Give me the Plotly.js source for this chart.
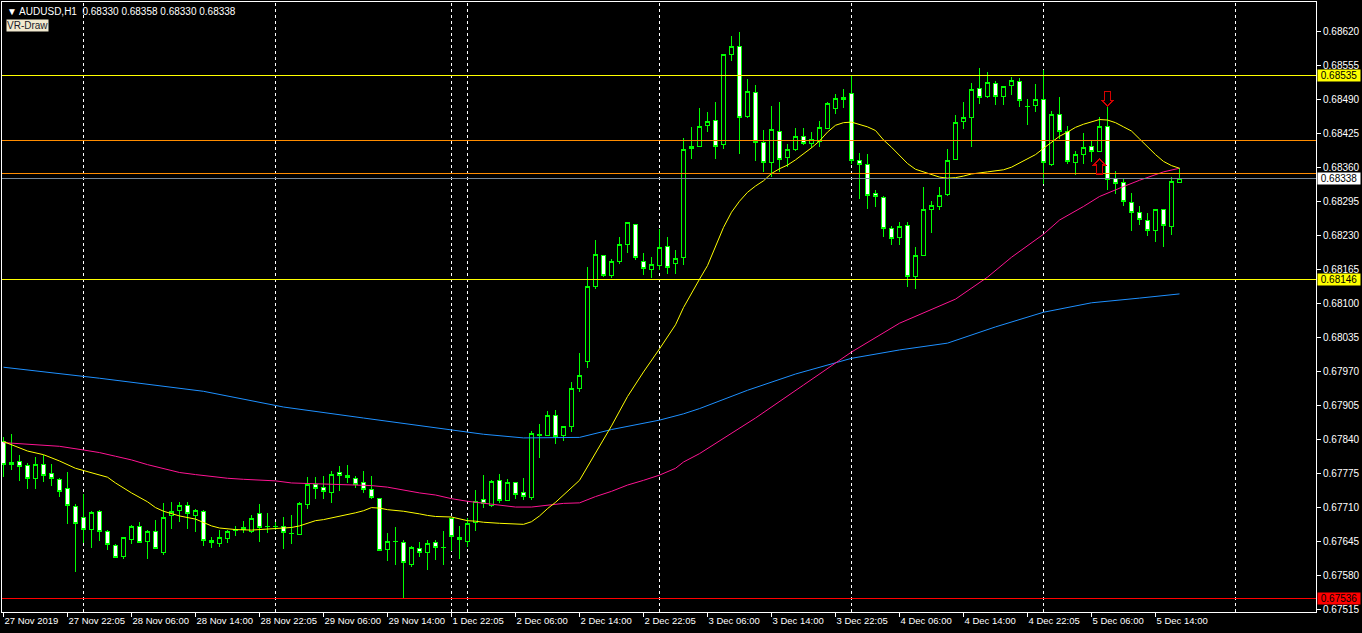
<!DOCTYPE html>
<html><head><meta charset="utf-8">
<script src="https://cdn.plot.ly/plotly-3.0.1.min.js"></script>
<style>html,body{margin:0;padding:0;background:#000;overflow:hidden}#chart{width:1362px;height:633px}
.shapelayer path{shape-rendering:crispEdges}
.boxes path{shape-rendering:crispEdges}
</style>
</head><body><div id="chart"></div>
<script>
// ---- DATA: AUDUSD H1, bar index 0..147 ----
const bars = Array.from({length:148},(_,i)=>i);
const open  = [0.67837,0.67792,0.67798,0.67790,0.67765,0.67792,0.67775,0.67764,0.67746,0.67712,0.67691,0.67668,0.67703,0.67664,0.67638,0.67616,0.67650,0.67673,0.67645,0.67664,0.67625,0.67694,0.67704,0.67714,0.67694,0.67703,0.67647,0.67642,0.67651,0.67666,0.67668,0.67665,0.67699,0.67673,0.67674,0.67674,0.67661,0.67658,0.67716,0.67755,0.67748,0.67738,0.67777,0.67771,0.67766,0.67758,0.67744,0.67728,0.67630,0.67645,0.67643,0.67601,0.67632,0.67624,0.67643,0.67633,0.67689,0.67653,0.67646,0.67681,0.67725,0.67714,0.67761,0.67724,0.67757,0.67739,0.67729,0.67848,0.67848,0.67886,0.67847,0.67864,0.67937,0.67988,0.68133,0.68192,0.68154,0.68179,0.68212,0.68251,0.68180,0.68164,0.68172,0.68209,0.68176,0.68188,0.68396,0.68400,0.68440,0.68449,0.68404,0.68575,0.68591,0.68457,0.68503,0.68407,0.68369,0.68428,0.68379,0.68394,0.68419,0.68406,0.68409,0.68434,0.68472,0.68493,0.68501,0.68373,0.68365,0.68310,0.68303,0.68243,0.68226,0.68249,0.68151,0.68192,0.68279,0.68284,0.68307,0.68375,0.68447,0.68455,0.68511,0.68495,0.68520,0.68495,0.68516,0.68524,0.68475,0.68478,0.68490,0.68365,0.68461,0.68428,0.68369,0.68384,0.68400,0.68390,0.68438,0.68338,0.68331,0.68293,0.68274,0.68258,0.68239,0.68280,0.68247,0.68330];
const high  = [0.67845,0.67850,0.67810,0.67795,0.67806,0.67811,0.67793,0.67767,0.67778,0.67717,0.67736,0.67704,0.67705,0.67667,0.67640,0.67654,0.67676,0.67682,0.67668,0.67686,0.67719,0.67720,0.67720,0.67720,0.67708,0.67705,0.67653,0.67668,0.67667,0.67674,0.67684,0.67695,0.67717,0.67700,0.67683,0.67692,0.67696,0.67720,0.67768,0.67768,0.67770,0.67779,0.67789,0.67791,0.67770,0.67779,0.67770,0.67729,0.67662,0.67672,0.67649,0.67636,0.67644,0.67648,0.67648,0.67665,0.67690,0.67675,0.67691,0.67743,0.67772,0.67762,0.67775,0.67764,0.67758,0.67766,0.67856,0.67869,0.67894,0.67896,0.67866,0.67950,0.68005,0.68169,0.68221,0.68193,0.68184,0.68227,0.68256,0.68252,0.68196,0.68188,0.68242,0.68227,0.68201,0.68415,0.68437,0.68473,0.68465,0.68484,0.68576,0.68610,0.68618,0.68528,0.68517,0.68431,0.68476,0.68484,0.68405,0.68435,0.68435,0.68427,0.68448,0.68485,0.68500,0.68509,0.68535,0.68388,0.68385,0.68316,0.68305,0.68247,0.68255,0.68255,0.68207,0.68322,0.68295,0.68323,0.68395,0.68459,0.68484,0.68520,0.68549,0.68541,0.68524,0.68515,0.68533,0.68531,0.68491,0.68518,0.68545,0.68467,0.68494,0.68439,0.68391,0.68426,0.68411,0.68456,0.68478,0.68353,0.68338,0.68310,0.68285,0.68272,0.68281,0.68281,0.68341,0.68358];
const low   = [0.67769,0.67782,0.67761,0.67745,0.67745,0.67759,0.67752,0.67730,0.67679,0.67587,0.67643,0.67633,0.67646,0.67629,0.67613,0.67612,0.67641,0.67642,0.67612,0.67630,0.67620,0.67669,0.67682,0.67669,0.67664,0.67637,0.67633,0.67634,0.67642,0.67655,0.67662,0.67662,0.67645,0.67662,0.67667,0.67631,0.67641,0.67657,0.67708,0.67727,0.67727,0.67719,0.67742,0.67757,0.67748,0.67737,0.67727,0.67627,0.67608,0.67601,0.67536,0.67597,0.67615,0.67591,0.67610,0.67601,0.67627,0.67612,0.67635,0.67666,0.67709,0.67712,0.67718,0.67722,0.67727,0.67725,0.67725,0.67805,0.67847,0.67832,0.67837,0.67855,0.67931,0.67977,0.68128,0.68151,0.68149,0.68175,0.68196,0.68183,0.68154,0.68148,0.68164,0.68156,0.68156,0.68174,0.68376,0.68399,0.68428,0.68376,0.68394,0.68563,0.68386,0.68453,0.68372,0.68351,0.68342,0.68351,0.68360,0.68390,0.68402,0.68396,0.68399,0.68433,0.68461,0.68473,0.68367,0.68300,0.68281,0.68284,0.68227,0.68212,0.68212,0.68132,0.68128,0.68191,0.68235,0.68279,0.68305,0.68373,0.68432,0.68399,0.68481,0.68492,0.68479,0.68479,0.68497,0.68475,0.68441,0.68466,0.68328,0.68363,0.68414,0.68366,0.68346,0.68367,0.68369,0.68389,0.68316,0.68308,0.68286,0.68239,0.68249,0.68228,0.68218,0.68207,0.68231,0.68330];
const close = [0.67793,0.67796,0.67789,0.67765,0.67793,0.67771,0.67765,0.67741,0.67714,0.67679,0.67668,0.67701,0.67664,0.67640,0.67615,0.67653,0.67674,0.67643,0.67664,0.67631,0.67692,0.67702,0.67714,0.67698,0.67705,0.67647,0.67643,0.67653,0.67664,0.67668,0.67672,0.67689,0.67672,0.67674,0.67673,0.67662,0.67660,0.67718,0.67755,0.67746,0.67740,0.67773,0.67771,0.67768,0.67755,0.67745,0.67729,0.67628,0.67645,0.67646,0.67605,0.67634,0.67624,0.67642,0.67634,0.67634,0.67654,0.67649,0.67680,0.67721,0.67717,0.67760,0.67724,0.67757,0.67735,0.67731,0.67852,0.67850,0.67886,0.67846,0.67865,0.67937,0.67962,0.68132,0.68194,0.68154,0.68179,0.68213,0.68255,0.68187,0.68167,0.68174,0.68207,0.68168,0.68186,0.68394,0.68400,0.68438,0.68447,0.68400,0.68575,0.68591,0.68455,0.68505,0.68407,0.68369,0.68432,0.68375,0.68394,0.68419,0.68406,0.68413,0.68436,0.68482,0.68491,0.68489,0.68373,0.68365,0.68306,0.68304,0.68243,0.68224,0.68247,0.68151,0.68192,0.68279,0.68287,0.68306,0.68373,0.68446,0.68455,0.68509,0.68493,0.68522,0.68495,0.68514,0.68526,0.68488,0.68476,0.68490,0.68369,0.68461,0.68428,0.68371,0.68384,0.68398,0.68390,0.68438,0.68337,0.68329,0.68295,0.68274,0.68260,0.68239,0.68279,0.68249,0.68333,0.68338];

// moving averages (bar index, price)
const maFastBars = [0,3,5,7,9,10,12,13,14,16,18,19,20,22,24,25,26,27,29,31,34,36,37,38,39,40,41,42,43,44,45,46,47,48,50,51,52,53,54,56,57,58,59,60,62,64,65,66,67,68,69,72,74,76,78,80,82,83,84,85,86,87,88,89,90,91,92,93,94,95,96,97,98,99,100,101,102,103,104,105,106,107,108,109,110,111,112,113,114,115,116,117,118,119,120,121,123,125,126,128,129,130,131,132,133,134,135,136,137,138,139,140,141,142,143,144,145,146,147];
const maFastVals = [0.67836,0.67818,0.67811,0.67799,0.67785,0.67781,0.67773,0.67768,0.67757,0.67738,0.67721,0.67710,0.67703,0.67694,0.67688,0.67682,0.67675,0.67671,0.67668,0.67667,0.67670,0.67672,0.67675,0.67680,0.67685,0.67687,0.67690,0.67694,0.67697,0.67700,0.67704,0.67710,0.67709,0.67706,0.67703,0.67701,0.67698,0.67695,0.67693,0.67692,0.67689,0.67685,0.67684,0.67682,0.67680,0.67678,0.67678,0.67683,0.67694,0.67708,0.67720,0.67762,0.67814,0.67866,0.67922,0.67969,0.68013,0.68036,0.68059,0.68092,0.68120,0.68146,0.68172,0.68210,0.68245,0.68274,0.68295,0.68312,0.68324,0.68334,0.68348,0.68357,0.68364,0.68374,0.68385,0.68397,0.68410,0.68427,0.68440,0.68445,0.68446,0.68442,0.68437,0.68430,0.68412,0.68398,0.68382,0.68367,0.68356,0.68351,0.68346,0.68341,0.68339,0.68340,0.68343,0.68347,0.68351,0.68355,0.68360,0.68376,0.68384,0.68396,0.68408,0.68419,0.68427,0.68436,0.68442,0.68447,0.68451,0.68450,0.68445,0.68437,0.68429,0.68414,0.68398,0.68384,0.68371,0.68363,0.68358];
const maMidBars = [0,3,5,7,10,12,14,16,18,20,22,24,26,28,30,32,34,36,38,40,42,44,46,48,50,52,54,56,58,60,62,64,66,68,70,72,74,76,78,80,82,84,85,87,94,100,106,112,119,123,126,130,132,135,137,140,142,145,147];
const maMidVals = [0.67834,0.67831,0.67829,0.67827,0.67820,0.67815,0.67808,0.67801,0.67792,0.67784,0.67777,0.67773,0.67769,0.67766,0.67764,0.67762,0.67761,0.67757,0.67756,0.67755,0.67753,0.67753,0.67752,0.67749,0.67743,0.67738,0.67734,0.67727,0.67722,0.67718,0.67714,0.67711,0.67711,0.67714,0.67718,0.67719,0.67731,0.67741,0.67753,0.67762,0.67772,0.67785,0.67797,0.67813,0.67881,0.67944,0.68007,0.68062,0.68108,0.68150,0.68188,0.68232,0.68259,0.68285,0.68304,0.68323,0.68335,0.68351,0.68358];
const maSlowBars = [0,12,25,35,45,55,60,65,70,72,76,79,82,85,87,93,99,106,112,118,124,130,136,142,147];
const maSlowVals = [0.67978,0.67957,0.67932,0.67902,0.67881,0.67860,0.67850,0.67843,0.67843,0.67844,0.67859,0.67868,0.67877,0.67889,0.67899,0.67934,0.67965,0.67995,0.68011,0.68024,0.68055,0.68083,0.68101,0.68110,0.68118];

// horizontal levels (price) and their labels
const levelLines  = [0.68535, 0.68410, 0.68347, 0.68146, 0.67536];
const labelledLevels = [0.68535, 0.68146, 0.67536];

// time axis
const xTickBars = [0,8,16,24,32,40,48,56,64,72,80,88,96,104,112,120,128,136,144];
const xTickText = ['27 Nov 2019','27 Nov 22:05','28 Nov 06:00','28 Nov 14:00','28 Nov 22:05','29 Nov 06:00','29 Nov 14:00','1 Dec 22:05','2 Dec 06:00','2 Dec 14:00','2 Dec 22:05','3 Dec 06:00','3 Dec 14:00','3 Dec 22:05','4 Dec 06:00','4 Dec 14:00','4 Dec 22:05','5 Dec 06:00','5 Dec 14:00'];
const daySeparatorBars = [10,34,56,58,82,106,130,154];
const yTickVals = [0.67515,0.67580,0.67645,0.67710,0.67775,0.67840,0.67905,0.67970,0.68035,0.68100,0.68165,0.68230,0.68295,0.68360,0.68425,0.68490,0.68555,0.68620];

// arrow objects (bar, price, direction)
const arrowBars = [138, 137];
const arrowPrices = [0.68476, 0.68376];
const arrowDirs = ['down','up'];

// ---- STYLE ----
const FONT = "'Liberation Sans',Arial,sans-serif";
const FS = 10;
const levelColors = ['#ffff00','#ff8c00','#ff8c00','#ffff00','#ff0000'];
const labelBg = {'0.68535':'#ffff00','0.68146':'#ffff00','0.67536':'#ff0000'};

const last = close.length-1;
const traces = [
  {type:'candlestick', x:bars, open:open, high:high, low:low, close:close,
   increasing:{line:{color:'#00ff00',width:1},fillcolor:'#000000'},
   decreasing:{line:{color:'#00ff00',width:1},fillcolor:'#ffffff'},
   whiskerwidth:0, hoverinfo:'skip', showlegend:false},
  {type:'scatter',mode:'lines',x:maSlowBars,y:maSlowVals,line:{color:'#1e90ff',width:1},hoverinfo:'skip'},
  {type:'scatter',mode:'lines',x:maMidBars,y:maMidVals,line:{color:'#ff1493',width:1},hoverinfo:'skip'},
  {type:'scatter',mode:'lines',x:maFastBars,y:maFastVals,line:{color:'#ffff00',width:1},hoverinfo:'skip'}
];

const shapes = [];
daySeparatorBars.forEach(b=>shapes.push({type:'line',xref:'x',yref:'paper',x0:b,x1:b,y0:0,y1:1,
  line:{color:'#ffffff',width:1,dash:'3px,3px'},layer:'below'}));
levelLines.forEach((p,i)=>shapes.push({type:'line',xref:'paper',yref:'y',x0:0,x1:1,y0:p,y1:p,
  line:{color:levelColors[i],width:1},layer:'above'}));
shapes.push({type:'line',xref:'paper',yref:'y',x0:0,x1:1,y0:close[last],y1:close[last],
  line:{color:'#778899',width:1},layer:'above'});
arrowBars.forEach((b,i)=>{
  const path = arrowDirs[i]==='down'
    ? 'M0,0 L-6,6 L-3,6 L-3,15 L3,15 L3,6 L6,6 Z'
    : 'M0,0 L-6,-6 L-3,-6 L-3,-15 L3,-15 L3,-6 L6,-6 Z';
  shapes.push({type:'path',xref:'x',yref:'y',xsizemode:'pixel',ysizemode:'pixel',
    xanchor:b,yanchor:arrowPrices[i],path:path,
    line:{color:'#d40000',width:1.5},fillcolor:'rgba(0,0,0,0)',layer:'above'});
});

const annotations = [];
labelledLevels.forEach(p=>annotations.push({xref:'paper',yref:'y',x:1,y:p,xanchor:'left',yanchor:'middle',
  xshift:1,text:'&nbsp;'+p.toFixed(5)+'&nbsp;',showarrow:false,bgcolor:labelBg[p.toFixed(5)],borderpad:0,
  font:{family:FONT,size:FS,color:'#000000'}}));
annotations.push({xref:'paper',yref:'y',x:1,y:close[last],xanchor:'left',yanchor:'middle',
  xshift:1,text:'&nbsp;'+close[last].toFixed(5)+'&nbsp;',showarrow:false,bgcolor:'#ffffff',borderpad:0,
  font:{family:FONT,size:FS,color:'#000000'}});
annotations.push({xref:'paper',yref:'paper',x:0,y:1,xanchor:'left',yanchor:'top',xshift:3,yshift:-2,
  text:'\u25BC AUDUSD,H1&nbsp;&nbsp;'+open[last].toFixed(5)+' '+high[last].toFixed(5)+' '+low[last].toFixed(5)+' '+close[last].toFixed(5),
  showarrow:false,font:{family:FONT,size:10,color:'#ffffff'}});
annotations.push({xref:'paper',yref:'paper',x:0,y:1,xanchor:'left',yanchor:'top',xshift:4,yshift:-17,
  text:'VR-Draw',showarrow:false,bgcolor:'#f1e9cf',borderpad:0,font:{family:FONT,size:10,color:'#1a1a2a'}});

const layout = {
  width:1362,height:633,paper_bgcolor:'#000000',plot_bgcolor:'#000000',
  margin:{l:2,r:46,t:2,b:21,pad:0},showlegend:false,
  boxgap:0.5,boxgroupgap:0,
  xaxis:{type:'linear',range:[-0.1875,164.0625],rangeslider:{visible:false},showgrid:false,zeroline:false,
    showline:true,mirror:true,linecolor:'#ffffff',linewidth:1,ticks:'outside',ticklen:4,tickcolor:'#ffffff',
    tickmode:'array',tickvals:xTickBars,ticktext:xTickText,tickangle:0,ticklabelposition:'outside right',
    tickfont:{family:FONT,size:9.5,color:'#ffffff'},fixedrange:true,automargin:false},
  yaxis:{side:'right',range:[0.675106,0.686754],showgrid:false,zeroline:false,showline:true,mirror:true,
    linecolor:'#ffffff',linewidth:1,ticks:'outside',ticklen:4,tickcolor:'#ffffff',
    tickmode:'array',tickvals:yTickVals,ticktext:yTickVals.map(v=>v.toFixed(5)),
    tickfont:{family:FONT,size:FS,color:'#ffffff'},fixedrange:true,automargin:false},
  shapes:shapes,annotations:annotations
};
Plotly.newPlot('chart',traces,layout,{staticPlot:true,displayModeBar:false});
</script></body></html>
